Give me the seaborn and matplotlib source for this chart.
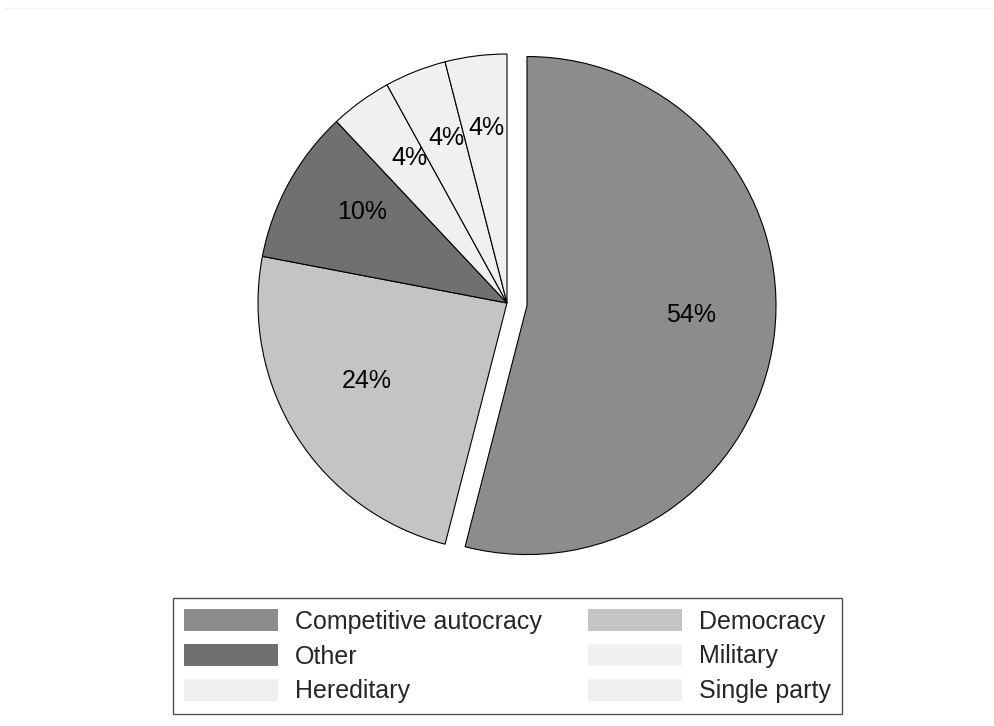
import matplotlib
matplotlib.use("Agg")
import matplotlib.pyplot as plt
import seaborn as sns
from matplotlib.patches import Patch
from matplotlib.lines import Line2D

categories = ["Competitive autocracy", "Democracy", "Other", "Military", "Hereditary", "Single party"]
shares = [54, 24, 10, 4, 4, 4]
colors = ["#8c8c8c", "#c4c4c4", "#707070", "#f0f0f0", "#f0f0f0", "#f0f0f0"]
explode = [0.081, 0, 0, 0, 0, 0]

sns.set_theme(style="white")
plt.rcParams["font.family"] = ["Liberation Sans", "DejaVu Sans"]

W, H = 995, 726
fig = plt.figure(figsize=(W / 100, H / 100), dpi=100)
fig.patch.set_facecolor("white")

# axes: 249 px per unit, pie centre at pixel (507, 303)
cx, cy, r = 507, 303, 249
half = 300
ax = fig.add_axes([(cx - half) / W, (H - cy - half) / H, 2 * half / W, 2 * half / H])

wedges, texts, autotexts = ax.pie(
    shares, colors=colors, explode=explode, startangle=90, counterclock=False,
    radius=1, autopct="%d%%", pctdistance=0.665,
    wedgeprops=dict(edgecolor="black", linewidth=0.8),
    textprops=dict(fontsize=18, color="black"),
)
# labels sit slightly above the radial point, as in the reference
for t in autotexts:
    x, y = t.get_position()
    t.set_position((x, y + 11 / r))

ax.set_aspect("equal")
ax.set_xlim(-half / r, half / r)
ax.set_ylim(-half / r, half / r)
ax.axis("off")

# faint top rule
fig.add_artist(Line2D([5 / W, 1.0], [1 - 8 / H, 1 - 8 / H], color="#eef3f5", lw=1))

# legend, row-major order across two columns
order = [0, 2, 4, 1, 3, 5]
handles = [Patch(facecolor=colors[i], edgecolor="none") for i in order]
labels = [categories[i] for i in order]
leg = fig.legend(
    handles, labels, ncol=2, loc="upper left",
    bbox_to_anchor=(173 / W, 1 - 598 / H),
    frameon=True, fancybox=False, edgecolor="#222222", fontsize=18,
    handlelength=3.76, handleheight=1.0, handletextpad=0.68,
    columnspacing=1.84, labelspacing=0.4, borderpad=0.44, borderaxespad=0,
)
leg.get_frame().set_linewidth(1.0)

fig.savefig("out.png", dpi=100, facecolor="white")
